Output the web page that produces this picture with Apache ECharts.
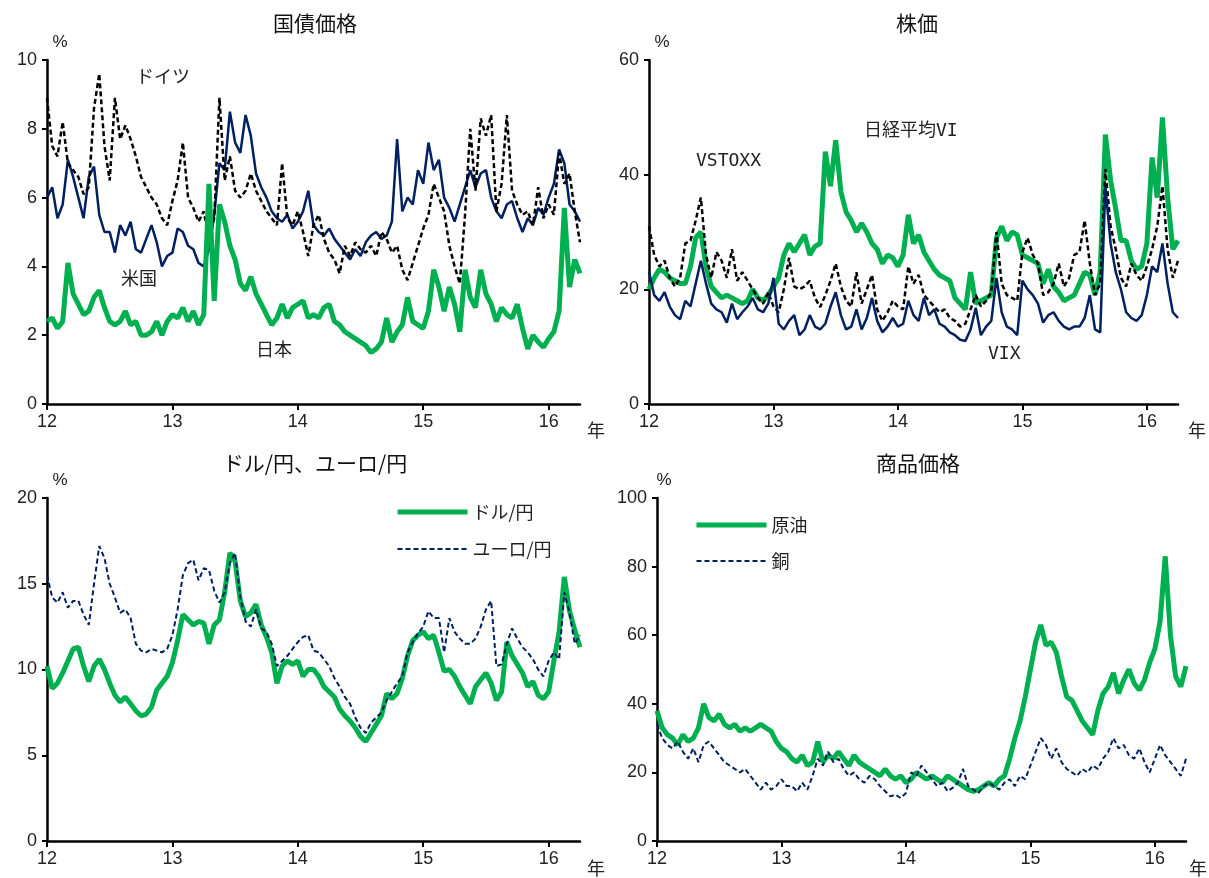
<!DOCTYPE html>
<html><head><meta charset="utf-8">
<script src="https://cdn.jsdelivr.net/npm/echarts@6/dist/echarts.min.js"></script>
<style>html,body{margin:0;padding:0;background:#fff}#c{width:1209px;height:878px}</style>
</head><body><div id="c"></div>
<script>
// time axis: half-month steps from start of 2012 (index 0) to 2016.25 (index 102)
const yearLabels = ['12','13','14','15','16'];
const stepsPerYear = 24;
const nPoints = 103;

// 国債価格 (%)
const bondJapan = [2.4,2.5,2.2,2.4,4.1,3.2,2.9,2.6,2.7,3.1,3.3,2.8,2.4,2.3,2.4,2.7,2.3,2.4,2.0,2.0,2.1,2.4,2.0,2.4,
  2.6,2.5,2.8,2.4,2.7,2.3,2.6,6.4,3.0,5.8,5.3,4.6,4.2,3.5,3.3,3.7,3.2,2.9,2.6,2.3,2.5,2.9,2.5,2.8,
  2.9,3.0,2.5,2.6,2.5,2.8,2.9,2.4,2.3,2.1,2.0,1.9,1.8,1.7,1.5,1.6,1.8,2.5,1.8,2.1,2.3,3.1,2.4,2.3,
  2.2,2.7,3.9,3.4,2.7,3.4,2.9,2.1,3.9,3.1,2.8,3.9,3.2,2.9,2.4,2.8,2.6,2.5,2.9,2.2,1.6,2.0,1.8,1.65,
  1.9,2.1,2.7,5.7,3.4,4.2,3.8];
const bondUS = [6.0,6.3,5.4,5.8,7.1,6.6,6.0,5.4,6.6,6.9,5.5,5.0,5.0,4.4,5.2,4.9,5.3,4.5,4.4,4.8,5.2,4.7,4.0,4.3,
  4.4,5.1,5.0,4.6,4.5,4.1,4.0,4.5,5.5,7.0,6.8,8.5,7.6,7.3,8.4,7.8,6.7,6.3,6.0,5.6,5.4,5.3,5.5,5.1,
  5.3,5.6,6.2,5.2,5.0,4.9,5.1,4.8,4.6,4.4,4.2,4.5,4.3,4.7,4.9,5.0,4.8,4.9,5.3,7.7,5.6,6.0,5.8,6.8,
  6.4,7.6,6.8,7.1,6.0,5.7,5.3,5.8,6.3,6.8,6.3,6.7,6.8,6.0,5.6,5.4,5.8,5.9,5.4,5.0,5.4,5.2,5.7,5.5,
  6.0,6.4,7.4,7.0,5.8,5.6,5.3];
const bondGermany = [8.9,7.5,7.2,8.2,7.0,6.8,6.6,6.1,6.3,8.6,9.6,7.5,6.5,8.9,7.7,8.1,7.7,7.2,6.6,6.3,6.0,5.8,5.4,5.2,
  5.9,6.5,7.6,6.0,5.7,5.3,5.6,4.8,5.4,8.9,6.5,7.2,6.2,6.0,6.2,6.7,6.2,5.9,5.6,5.4,5.2,7.0,5.4,5.2,
  5.6,5.0,4.3,5.2,5.5,4.8,4.4,4.2,3.8,4.6,4.3,4.7,4.5,4.4,4.6,4.3,5.0,4.8,4.4,4.6,3.9,3.6,4.1,4.6,
  5.1,5.5,6.4,6.0,5.6,4.6,4.0,3.5,5.5,8.0,6.2,8.3,7.8,8.4,5.6,6.4,8.4,6.2,5.8,5.5,5.6,5.2,6.3,5.4,
  5.8,5.5,7.3,6.4,6.7,5.6,4.7];

// 株価 (%)
const volNikkei = [20,22,23.5,23,22,21.5,21,21,24,29,30,24,20.5,19.5,18.5,19,18.5,18,17.5,18,20,18.5,18,19,
  20.5,22,26,28,26.5,28,29.5,26,27.5,28,44,38,46,37,33.5,32,30,31.5,30,28,27,24.5,26,25.5,
  24,26,33,28,29.5,26.5,25,23.5,22.5,22,21.5,18.5,17.5,16.5,23,17.5,18,18.5,19,29,31,28.5,30,29.5,
  26,25.5,25,24.5,21,23.5,20.5,19.5,18,18.5,19,21,23,22.5,19,23,47,39,34,28.5,28.5,25,23.5,24,
  28,43,36,50,36,27,28.5];
const volVSTOXX = [31,26,24,25,22,20.5,22,28,28.5,32,36,26,22,26.5,25,22,27,21.5,23,21.5,20,18.5,17.5,19.5,
  17,16,20,25.5,20.5,20,20.5,21.5,18.5,16.9,19,21.5,24.5,20.5,18,17,23,17.5,20,22.5,16.5,14.5,16,18,
  17,16.5,24,21,22.5,19,18,17,16,16.5,15,14.5,13.5,14,16.5,19,17,18,19.5,30,21,19,18.5,18,
  26.5,29,26,24.5,19,19.5,21,24.5,20.5,22,26,26.5,32,24.5,19,21,41,31,27,22,20.5,24.5,22.5,21.5,
  24,27,31,38,27,22,25];
const volVIX = [23,19,18,19.5,17,15.5,14.8,18,17,21,25,21,17.5,16.5,16,14.2,17.5,14.8,16,17,18.5,16.5,16,17.5,
  22,14,13,14.5,15.5,12,13,15.5,13.5,13,14,17,19.5,15.5,13,13.5,16.5,13,15,18.5,14.5,12.5,13.5,15,
  13.5,14,18,15.5,14.5,18.5,15.5,16.5,14,13.5,12.5,12,11.2,11,13,16.8,12,13.5,14.5,22,16,13.5,13,12,
  21.5,20,19,17.5,14.2,15.5,16,14.5,13.5,13,13.5,13.5,15,19,13,12.5,38,28,23,20,16,15,14.5,15.5,
  19,24,23,28,21,16,15];

// ドル/円、ユーロ/円 (%)
const fxUSDJPY = [10.2,8.9,9.2,9.8,10.5,11.2,11.3,10.2,9.3,10.2,10.6,10.0,9.2,8.5,8.1,8.4,8.0,7.6,7.3,7.4,7.8,8.8,9.2,9.6,
  10.4,11.7,13.2,12.9,12.6,12.8,12.7,11.5,12.6,12.9,14.5,16.8,16.3,14.0,13.1,13.3,13.8,12.6,11.9,11.0,9.2,10.2,10.5,10.3,
  10.5,9.6,10.0,10.0,9.6,9.0,8.7,8.4,7.7,7.3,7.0,6.6,6.1,5.8,6.3,6.8,7.3,8.6,8.3,8.6,9.5,10.8,11.7,12.0,
  12.2,11.8,12.0,11.0,9.9,10.0,9.6,9.0,8.5,8.0,9.0,9.4,9.8,9.2,8.2,8.7,11.6,10.8,10.3,9.8,9.0,9.3,8.5,8.3,
  8.7,10.5,12.2,15.4,13.4,12.3,11.3];
const fxEURJPY = [15.5,14.2,13.9,14.5,13.6,14.0,14.0,13.2,12.6,15.0,17.2,16.5,15.0,14.2,13.3,13.5,13.0,11.5,11.1,11.0,11.2,11.1,11.0,11.2,
  12.0,13.5,15.5,16.2,16.4,15.2,15.9,15.8,14.6,13.9,14.5,16.2,16.8,14.2,12.8,12.5,13.5,12.4,12.2,11.5,10.2,10.5,10.8,11.2,
  11.6,11.9,12.0,11.1,11.0,10.6,10.2,9.5,9.0,8.4,8.0,7.2,6.6,6.3,6.9,7.2,7.5,8.2,8.7,9.2,9.6,11.0,11.6,12.1,
  12.5,13.4,13.0,13.0,11.0,13.0,12.2,11.8,11.5,11.5,11.8,12.5,13.5,14.0,10.2,10.3,11.5,12.4,11.8,11.3,11.0,10.6,10.0,9.6,
  10.5,11.0,10.6,14.5,13.3,11.5,12.0];

// 商品価格 (%)
const cmdOil = [38,33,31,30,28,31,29,30,33,40,36,35,37,34,33,34,32,33,32,33,34,33,32,29,
  27,26,24,23,25,22,23,29,23,25,24,26,24,22,25,23,22,21,20,19,21,19,18,19,
  17,18,20,19,18,19,18,17,19,18,17,16,15,14.5,15,16,17,16,18,19,24,30,35,42,
  50,58,63,57,58,55,48,42,41,38,35,33,31,38,43,45,49,43,47,50,46,44,47,52,
  56,64,83,60,48,45,51];
const cmdCopper = [34,30,28,27,29,26,24,27,23,28,29,27,25,23,22,21,20,21,19,17,15,17,15,16,
  18,16,16,14.5,17,15,19,24,22,26,23,24,21,19,20,18,17,19,18,16,14.5,13,13.5,12.5,
  14,20,19,22,20,18,16,17,14.5,15.5,17,21,16,15,14,16,17,16,15,17,18,16,19,18,
  22,26,30,28,24,27,23,21,20,19,21,20,22,21,24,26,30,27,28,25,24,27,23,20,
  24,28,25,23,21,19,24];

const categories = [];
for (let i = 0; i < nPoints; i++) {
  categories.push(yearLabels[0] + ':' + i);
}

const GREEN = '#00B050', NAVY = '#002060', BLACK = '#000000';
const FONT = "'Liberation Sans', 'Noto Sans CJK JP', sans-serif";
const JFONT = "'Noto Sans CJK JP', 'Liberation Sans', sans-serif";
const MFONT = "'DejaVu Sans Mono', 'Noto Sans CJK JP', monospace";

function isYearTick(idx) { return idx % stepsPerYear === 0; }

function makeX(gridIndex) {
  return {
    type: 'category', gridIndex, data: categories, boundaryGap: false,
    axisLine: { show: true, lineStyle: { color: '#000', width: 2.5 } },
    axisTick: { show: true, inside: false, length: 6, interval: (idx) => isYearTick(idx), lineStyle: { color: '#000', width: 2 } },
    axisLabel: { interval: (idx) => isYearTick(idx), formatter: (v, idx) => yearLabels[idx / stepsPerYear] || '',
      fontFamily: FONT, fontSize: 18, color: '#222', margin: 9 },
    splitLine: { show: false }
  };
}
function makeY(gridIndex, max, interval, padLeft) {
  return {
    type: 'value', gridIndex, min: 0, max, interval,
    name: '%', nameLocation: 'end', nameGap: 9,
    nameTextStyle: { fontFamily: FONT, fontSize: 17, color: '#222', padding: [0, 0, 0, padLeft] },
    axisLine: { show: true, lineStyle: { color: '#000', width: 2.5 } },
    axisTick: { show: true, inside: false, length: 5, lineStyle: { color: '#000', width: 2 } },
    axisLabel: { fontFamily: FONT, fontSize: 18, color: '#222', margin: 10 },
    splitLine: { show: false }
  };
}
function line(name, data, gi, color, width, type, z) {
  return {
    type: 'line', name, data, xAxisIndex: gi, yAxisIndex: gi, symbol: 'none', showSymbol: false,
    lineStyle: { color, width, type }, itemStyle: { color }, z, silent: true, animation: false
  };
}

const chart = echarts.init(document.getElementById('c'), null, { renderer: 'canvas' });
const titleStyle = { fontFamily: JFONT, fontSize: 21, fontWeight: 'normal', color: '#111' };
const ann = (t, x, y, f) => ({ type: 'text', left: x, top: y,
  style: { text: t, font: '18px ' + (f || MFONT), fill: '#222' } });
const legendCommon = { orient: 'vertical', padding: 0, itemWidth: 70, itemHeight: 14,
  itemStyle: { opacity: 0 }, lineStyle: { width: 'inherit', type: 'inherit' }, selectedMode: false,
  textStyle: { fontFamily: JFONT, fontSize: 18, color: '#222' } };

chart.setOption({
  backgroundColor: '#fff',
  animation: false,
  title: [
    { text: '国債価格', left: 310, top: 8, textAlign: 'center', textStyle: titleStyle },
    { text: '株価', left: 912, top: 8, textAlign: 'center', textStyle: titleStyle },
    { text: 'ドル/円、ユーロ/円', left: 310, top: 448, textAlign: 'center', textStyle: titleStyle },
    { text: '商品価格', left: 913, top: 448, textAlign: 'center', textStyle: titleStyle }
  ],
  grid: [
    { left: 47, top: 60, width: 533, height: 344 },
    { left: 649, top: 60, width: 529, height: 344 },
    { left: 47, top: 498, width: 533, height: 343 },
    { left: 657, top: 498, width: 529, height: 343 }
  ],
  xAxis: [makeX(0), makeX(1), makeX(2), makeX(3)],
  yAxis: [makeY(0, 10, 2, 26), makeY(1, 60, 20, 26), makeY(2, 20, 5, 26), makeY(3, 100, 20, 14)],
  legend: [
    Object.assign({ data: ['ドル/円', 'ユーロ/円'], left: 395, top: 503, itemGap: 19 }, legendCommon),
    Object.assign({ data: ['原油', '銅'], left: 694, top: 516, itemGap: 18 }, legendCommon)
  ],
  graphic: [
    ann('ドイツ', 136, 69), ann('米国', 121, 271), ann('日本', 256, 342),
    ann('VSTOXX', 696, 152), ann('日経平均VI', 864, 122), ann('VIX', 988, 345),
    ann('年', 587, 421, JFONT), ann('年', 1188, 421, JFONT), ann('年', 587, 859, JFONT), ann('年', 1189, 859, JFONT)
  ],
  series: [
    line('米国', bondUS, 0, NAVY, 2.5, 'solid', 2),
    line('ドイツ', bondGermany, 0, BLACK, 2.5, [5, 3], 3),
    line('日本', bondJapan, 0, GREEN, 5, 'solid', 4),
    line('日経平均VI', volNikkei, 1, GREEN, 5, 'solid', 2),
    line('VSTOXX', volVSTOXX, 1, BLACK, 2.5, [5, 3], 3),
    line('VIX', volVIX, 1, NAVY, 2.5, 'solid', 4),
    line('ドル/円', fxUSDJPY, 2, GREEN, 5, 'solid', 2),
    line('ユーロ/円', fxEURJPY, 2, NAVY, 2, [5, 3], 3),
    line('原油', cmdOil, 3, GREEN, 5, 'solid', 2),
    line('銅', cmdCopper, 3, NAVY, 2, [5, 3], 3)
  ]
});
</script></body></html>
